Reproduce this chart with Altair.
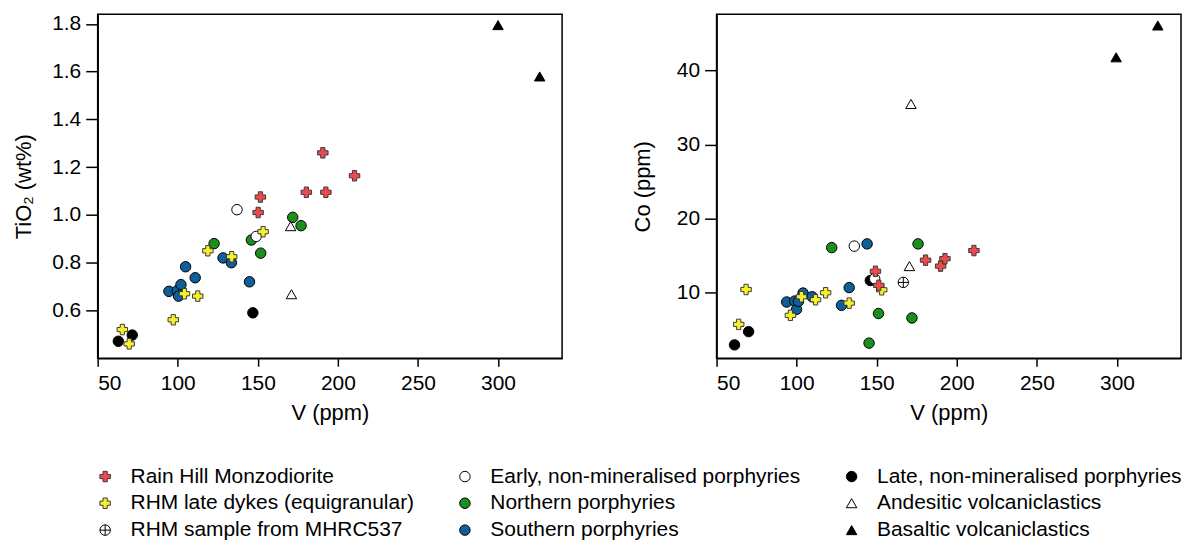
import altair as alt
import pandas as pd

FONT = "Liberation Sans"

# Legend entries; the legend fills its three columns top to bottom
GROUPS = [
    "Rain Hill Monzodiorite",
    "RHM late dykes (equigranular)",
    "RHM sample from MHRC537",
    "Early, non-mineralised porphyries",
    "Northern porphyries",
    "Southern porphyries",
    "Late, non-mineralised porphyries",
    "Andesitic volcaniclastics",
    "Basaltic volcaniclastics",
]
CIRCLE_PLUS = "M-1,0A1,1,0,1,1,1,0A1,1,0,1,1,-1,0ZM-1,0L1,0M0,-1L0,1"
SHAPES = ["cross", "cross", CIRCLE_PLUS, "circle", "circle", "circle",
          "circle", "triangle-up", "triangle-up"]
FILLS = ["#f0494c", "#f6ef2b", "white", "white", "#1b8f1b", "#0f5f98",
         "black", "white", "black"]
STROKES = ["#3a3a3a", "#3a3a3a", "black", "black", "black", "black",
           "black", "black", "black"]
SIZES = [110, 110, 70, 45, 60, 60, 52, 80, 85]

# ---- TiO2 vs V ----
ti_rhm_v = [150.2, 151.6, 180.3, 190.6, 192.5, 210.4]
ti_rhm = [1.01, 1.075, 1.095, 1.26, 1.095, 1.164]
ti_dyke_v = [65.4, 69.7, 97.2, 104.2, 112.5, 118.8, 133.7, 153.3]
ti_dyke = [0.52, 0.46, 0.561, 0.67, 0.66, 0.85, 0.825, 0.93]
ti_early_v = [137.0, 149.0]
ti_early = [1.022, 0.91]
ti_north_v = [122.7, 146.0, 151.8, 171.8, 177.0]
ti_north = [0.88, 0.895, 0.84, 0.99, 0.955]
ti_south_v = [94.5, 99.7, 100.5, 102.0, 104.9, 110.9, 128.3, 133.5, 144.8]
ti_south = [0.68, 0.683, 0.66, 0.708, 0.783, 0.737, 0.82, 0.80, 0.72]
ti_late_v = [62.9, 71.6, 146.9]
ti_late = [0.471, 0.497, 0.59]
ti_andes_v = [170.5, 171.0]
ti_andes = [0.953, 0.668]
ti_basalt_v = [300.0, 326.0]
ti_basalt = [1.795, 1.58]

# ---- Co vs V ----
co_rhm_v = [149.2, 151.3, 180.5, 189.9, 192.6, 210.7]
co_rhm = [12.9, 11.0, 14.4, 13.6, 14.6, 15.7]
co_dyke_v = [63.8, 68.4, 96.1, 103.0, 111.8, 118.1, 132.8, 153.1]
co_dyke = [5.73, 10.44, 6.95, 9.46, 9.06, 10.0, 8.6, 10.4]
co_mhrc_v = [166.6]
co_mhrc = [11.4]
co_early_v = [136.0, 148.7]
co_early = [16.3, 11.9]
co_north_v = [121.9, 145.2, 151.1, 172.0, 175.8]
co_north = [16.1, 3.2, 7.2, 6.6, 16.6]
co_south_v = [93.8, 98.8, 99.9, 101.1, 104.0, 109.7, 128.0, 132.8, 144.0]
co_south = [8.75, 8.88, 7.75, 8.83, 9.96, 9.46, 8.3, 10.7, 16.6]
co_late_v = [61.2, 70.0, 146.0]
co_late = [2.96, 4.75, 11.66]
co_andes_v = [170.4, 171.4]
co_andes = [13.6, 35.5]
co_basalt_v = [299.5, 325.5]
co_basalt = [41.8, 46.1]


def table(parts):
    rows = []
    for group, xs, ys in parts:
        for x, y in zip(xs, ys):
            rows.append({"group": group, "V": x, "val": y})
    return pd.DataFrame(rows)


# drawing order: crosses end up on top
ti_df = table([
    ("Basaltic volcaniclastics", ti_basalt_v, ti_basalt),
    ("Andesitic volcaniclastics", ti_andes_v, ti_andes),
    ("Late, non-mineralised porphyries", ti_late_v, ti_late),
    ("Southern porphyries", ti_south_v, ti_south),
    ("Northern porphyries", ti_north_v, ti_north),
    ("Early, non-mineralised porphyries", ti_early_v, ti_early),
    ("RHM late dykes (equigranular)", ti_dyke_v, ti_dyke),
    ("Rain Hill Monzodiorite", ti_rhm_v, ti_rhm),
])
co_df = table([
    ("Basaltic volcaniclastics", co_basalt_v, co_basalt),
    ("Andesitic volcaniclastics", co_andes_v, co_andes),
    ("Late, non-mineralised porphyries", co_late_v, co_late),
    ("Southern porphyries", co_south_v, co_south),
    ("Northern porphyries", co_north_v, co_north),
    ("Early, non-mineralised porphyries", co_early_v, co_early),
    ("RHM sample from MHRC537", co_mhrc_v, co_mhrc),
    ("RHM late dykes (equigranular)", co_dyke_v, co_dyke),
    ("Rain Hill Monzodiorite", co_rhm_v, co_rhm),
])

X_TICKS = [50, 100, 150, 200, 250, 300]
PANEL_W = 466
PANEL_H = 345


def panel(df, ytitle, ydomain, yticks, yfmt):
    x = alt.X("V:Q",
              scale=alt.Scale(domain=[50, 340], nice=False, zero=False),
              axis=alt.Axis(values=X_TICKS, title="V (ppm)", tickSize=8,
                            labelPadding=6,
                            titleY=54, titleBaseline="middle"))
    y = alt.Y("val:Q",
              scale=alt.Scale(domain=ydomain, nice=False, zero=False),
              axis=alt.Axis(values=yticks, format=yfmt, title=ytitle,
                            tickSize=12, labelPadding=5,
                            titleX=-74.5, titleY=PANEL_H / 2,
                            titleAngle=270, titleAlign="center",
                            titleBaseline="middle"))
    leg = alt.Legend(title=None)
    return alt.Chart(df).mark_point(filled=True, opacity=1, strokeWidth=1).encode(
        x=x,
        y=y,
        shape=alt.Shape("group:N", scale=alt.Scale(domain=GROUPS, range=SHAPES), legend=leg),
        fill=alt.Fill("group:N", scale=alt.Scale(domain=GROUPS, range=FILLS), legend=leg),
        stroke=alt.Stroke("group:N", scale=alt.Scale(domain=GROUPS, range=STROKES), legend=leg),
        size=alt.Size("group:N", scale=alt.Scale(domain=GROUPS, range=SIZES), legend=leg),
    ).properties(width=PANEL_W, height=PANEL_H)


left = panel(ti_df, "TiO₂ (wt%)", [0.40, 1.84], [0.6, 0.8, 1.0, 1.2, 1.4, 1.6, 1.8], ".1f")
right = panel(co_df, "Co (ppm)", [1.16, 47.6], [10, 20, 30, 40], "d")

chart = alt.hconcat(left, right, spacing=67).properties(
    padding={"left": 11, "top": 10.5, "right": 2, "bottom": 2}
).configure(
    font=FONT,
).configure_view(
    stroke="black", strokeWidth=1.5,
).configure_axis(
    grid=False,
    domainColor="black", domainWidth=1.5,
    tickColor="black", tickWidth=1.5,
    labelColor="black", labelFont=FONT, labelFontSize=21,
    titleColor="black", titleFont=FONT, titleFontSize=22, titleFontWeight="normal",
).configure_legend(
    orient="none", legendX=-3, legendY=453,
    columns=3, columnPadding=40, rowPadding=5,
    labelFont=FONT, labelFontSize=21, labelColor="black", labelOffset=15,
    labelLimit=500, symbolStrokeWidth=1, padding=0,
)

chart.save("out.html", embed_options={"renderer": "svg", "actions": False})
